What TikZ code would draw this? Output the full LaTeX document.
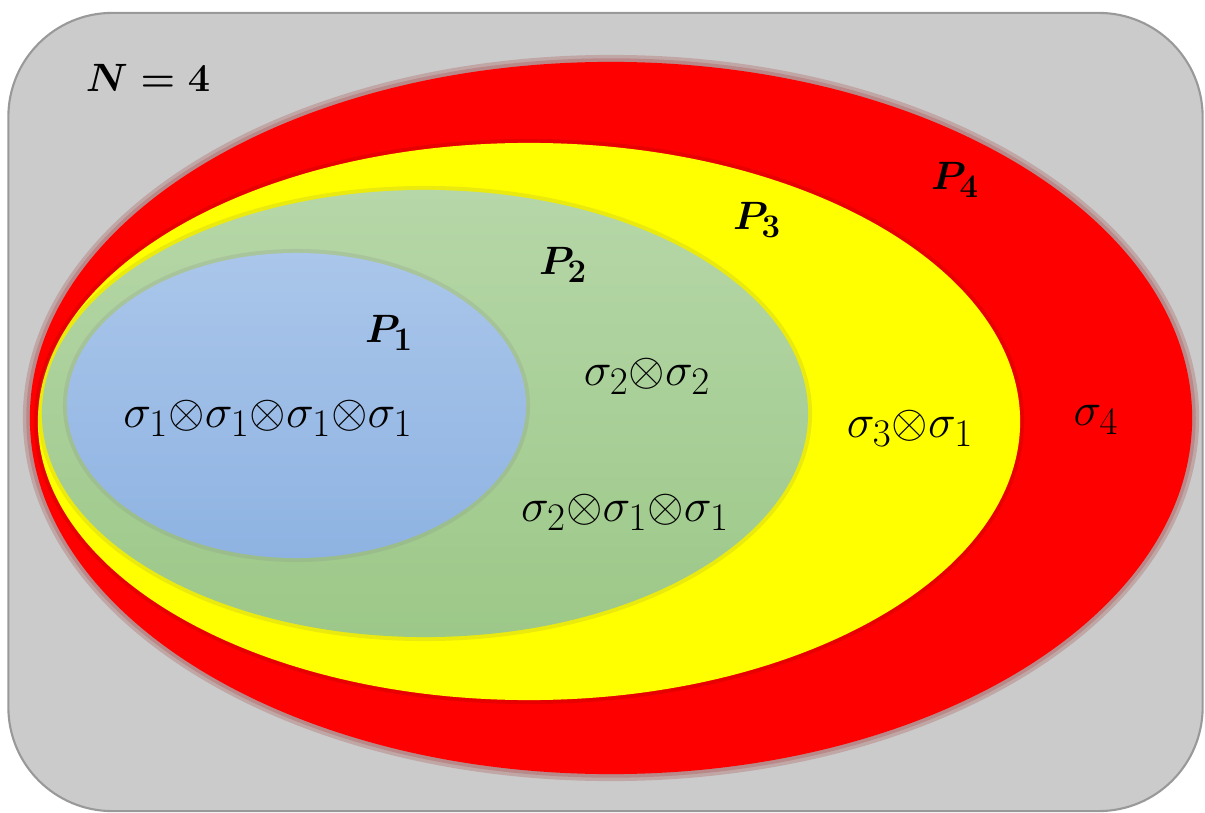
\documentclass[tikz,border=0pt]{standalone}
\usepackage{amsmath,bm,graphicx}
\usetikzlibrary{shapes.geometric}
\definecolor{frame}{HTML}{CBCBCB}
\definecolor{rd}{HTML}{FF0000}
\definecolor{yl}{HTML}{FFFF00}
\definecolor{gtop}{HTML}{B6D7A8}
\definecolor{gbot}{HTML}{9CC888}
\definecolor{btop}{HTML}{AAC6EA}
\definecolor{bbot}{HTML}{8EB3E2}
\newcommand{\biglbl}[1]{\scalebox{1.34}{$#1$}}
\newcommand{\boldlbl}[1]{\scalebox{1.13}{\boldmath$#1$}}
\tikzset{
  oval/.style={ellipse, inner sep=0pt},
  glow/.style={ellipse, inner sep=0pt, draw opacity=0.18},
  lbl/.style={font=\Huge, inner sep=0pt},
}
\begin{document}
\begin{tikzpicture}[x=0.025cm,y=-0.025cm]
\useasboundingbox (0,0) rectangle (1205,813);
% frame
\node[draw=gray!80, line width=1.5pt, fill=frame, rounded corners=2.6cm,
  minimum width=29.85cm, minimum height=19.95cm, inner sep=0pt] (frame) at (605.5,412) {};
% red
\node[glow, draw=rd!60!black, line width=0.35cm,
  minimum width=29.05cm, minimum height=17.8cm] (redglow) at (611,418) {};
\node[glow, draw=rd!60!black, line width=0.18cm,
  minimum width=29.05cm, minimum height=17.8cm] (redglow2) at (611,418) {};
\node[oval, fill=rd, minimum width=29.05cm, minimum height=17.8cm] (red) at (611,418) {};
% yellow
\node[glow, draw=rd!50!black, line width=0.2cm,
  minimum width=24.55cm, minimum height=13.925cm] (yelglow) at (529,421.5) {};
\node[oval, fill=yl, minimum width=24.55cm, minimum height=13.925cm] (yel) at (529,421.5) {};
% green
\node[glow, draw=gray!60!olive, line width=0.2cm,
  minimum width=19.15cm, minimum height=11.175cm] (grnglow) at (425,413.5) {};
\node[oval, top color=gtop, bottom color=gbot, minimum width=19.15cm, minimum height=11.175cm] (grn) at (425,413.5) {};
% blue
\node[glow, draw=gray, line width=0.2cm,
  minimum width=11.475cm, minimum height=7.625cm] (bluglow) at (296.5,405.5) {};
\node[oval, top color=btop, bottom color=bbot, minimum width=11.475cm, minimum height=7.625cm] (blu) at (296.5,405.5) {};
% labels
\node[lbl] (N) at (148,78) {\boldlbl{N=\mathbf{4}}};
\node[lbl] (P4) at (955,180) {\boldlbl{P_{\mathbf 4}}};
\node[lbl] (P3) at (757,220) {\boldlbl{P_{\mathbf 3}}};
\node[lbl] (P2) at (563,265) {\boldlbl{P_{\mathbf 2}}};
\node[lbl] (P1) at (389,333) {\boldlbl{P_{\mathbf 1}}};
\node[lbl] (s4) at (1096,420) {\biglbl{\sigma_4}};
\node[lbl] (s31) at (910,428) {\biglbl{\sigma_3{\otimes}\sigma_1}};
\node[lbl] (s22) at (647,376) {\biglbl{\sigma_2{\otimes}\sigma_2}};
\node[lbl] (s211) at (625,512) {\biglbl{\sigma_2{\otimes}\sigma_1{\otimes}\sigma_1}};
\node[lbl] (s1111) at (268,418) {\biglbl{\sigma_1{\otimes}\sigma_1{\otimes}\sigma_1{\otimes}\sigma_1}};
\end{tikzpicture}
\end{document}
